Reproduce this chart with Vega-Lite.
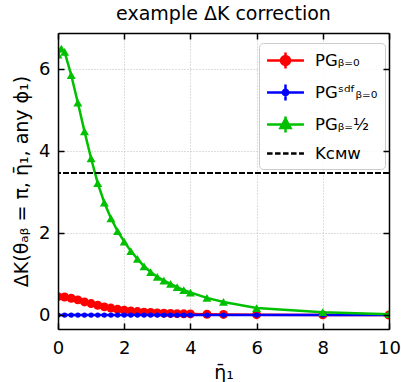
{
  "$schema": "https://vega.github.io/schema/vega-lite/v6.json",
  "width": 331,
  "height": 296,
  "autosize": {"type": "none"},
  "padding": {"left": 58, "top": 33, "right": 12, "bottom": 53},
  "title": {"text": "example ΔK correction", "fontSize": 19, "font": "DejaVu Sans", "fontWeight": "normal", "color": "black", "offset": 8},
  "config": {"font": "DejaVu Sans", "view": {"stroke": null}},
  "data": {"values": [
    {"s": "a", "x": 0, "y": 0.45}, {"s": "a", "x": 0.2, "y": 0.44}, {"s": "a", "x": 0.4, "y": 0.41}, {"s": "a", "x": 0.6, "y": 0.37}, {"s": "a", "x": 0.8, "y": 0.32},
    {"s": "a", "x": 1.0, "y": 0.28}, {"s": "a", "x": 1.2, "y": 0.24}, {"s": "a", "x": 1.4, "y": 0.2}, {"s": "a", "x": 1.6, "y": 0.17}, {"s": "a", "x": 1.8, "y": 0.14},
    {"s": "a", "x": 2.0, "y": 0.12}, {"s": "a", "x": 2.2, "y": 0.1}, {"s": "a", "x": 2.4, "y": 0.085}, {"s": "a", "x": 2.6, "y": 0.072}, {"s": "a", "x": 2.8, "y": 0.062},
    {"s": "a", "x": 3.0, "y": 0.053}, {"s": "a", "x": 3.2, "y": 0.046}, {"s": "a", "x": 3.4, "y": 0.04}, {"s": "a", "x": 3.6, "y": 0.035}, {"s": "a", "x": 3.8, "y": 0.031},
    {"s": "a", "x": 4.0, "y": 0.027}, {"s": "a", "x": 4.5, "y": 0.02}, {"s": "a", "x": 5, "y": 0.015}, {"s": "a", "x": 6, "y": 0.009}, {"s": "a", "x": 8, "y": 0.004}, {"s": "a", "x": 10, "y": 0.002},
    {"s": "b", "x": 0, "y": 0}, {"s": "b", "x": 0.2, "y": 0}, {"s": "b", "x": 0.4, "y": 0}, {"s": "b", "x": 0.6, "y": 0}, {"s": "b", "x": 0.8, "y": 0},
    {"s": "b", "x": 1.0, "y": 0}, {"s": "b", "x": 1.2, "y": 0}, {"s": "b", "x": 1.4, "y": 0}, {"s": "b", "x": 1.6, "y": 0}, {"s": "b", "x": 1.8, "y": 0},
    {"s": "b", "x": 2.0, "y": 0}, {"s": "b", "x": 2.2, "y": 0}, {"s": "b", "x": 2.4, "y": 0}, {"s": "b", "x": 2.6, "y": 0}, {"s": "b", "x": 2.8, "y": 0},
    {"s": "b", "x": 3.0, "y": 0}, {"s": "b", "x": 3.2, "y": 0}, {"s": "b", "x": 3.4, "y": 0}, {"s": "b", "x": 3.6, "y": 0}, {"s": "b", "x": 3.8, "y": 0},
    {"s": "b", "x": 4.0, "y": 0}, {"s": "b", "x": 4.5, "y": 0}, {"s": "b", "x": 5, "y": 0}, {"s": "b", "x": 6, "y": 0}, {"s": "b", "x": 8, "y": 0}, {"s": "b", "x": 10, "y": 0},
    {"s": "c", "x": 0, "y": 6.35}, {"s": "c", "x": 0.1, "y": 6.5}, {"s": "c", "x": 0.2, "y": 6.42}, {"s": "c", "x": 0.4, "y": 5.85}, {"s": "c", "x": 0.6, "y": 5.18}, {"s": "c", "x": 0.8, "y": 4.48},
    {"s": "c", "x": 1.0, "y": 3.82}, {"s": "c", "x": 1.2, "y": 3.22}, {"s": "c", "x": 1.4, "y": 2.74}, {"s": "c", "x": 1.6, "y": 2.36}, {"s": "c", "x": 1.8, "y": 2.05},
    {"s": "c", "x": 2.0, "y": 1.79}, {"s": "c", "x": 2.2, "y": 1.56}, {"s": "c", "x": 2.4, "y": 1.37}, {"s": "c", "x": 2.6, "y": 1.19}, {"s": "c", "x": 2.8, "y": 1.05},
    {"s": "c", "x": 3.0, "y": 0.93}, {"s": "c", "x": 3.2, "y": 0.84}, {"s": "c", "x": 3.4, "y": 0.76}, {"s": "c", "x": 3.6, "y": 0.68}, {"s": "c", "x": 3.8, "y": 0.61},
    {"s": "c", "x": 4.0, "y": 0.55}, {"s": "c", "x": 4.5, "y": 0.42}, {"s": "c", "x": 5, "y": 0.32}, {"s": "c", "x": 6, "y": 0.17}, {"s": "c", "x": 8, "y": 0.07}, {"s": "c", "x": 10, "y": 0.02}
  ]},
  "layer": [
    {
      "transform": [{"filter": "datum.s === 'a'"}],
      "mark": {"type": "line", "strokeWidth": 2.5, "clip": true},
      "encoding": {
        "x": {"field": "x", "type": "quantitative", "scale": {"domain": [0, 10], "nice": false, "zero": false},
              "axis": {"orient": "top", "grid": true, "ticks": false, "labels": false, "domain": false, "title": null, "values": [0, 2, 4, 6, 8, 10], "gridColor": "#bdbdbd", "gridDash": [1, 2], "gridWidth": 1, "zindex": 0}},
        "y": {"field": "y", "type": "quantitative", "scale": {"domain": [-0.34, 6.88], "nice": false, "zero": false},
              "axis": {"orient": "right", "grid": true, "ticks": false, "labels": false, "domain": false, "title": null, "values": [0, 2, 4, 6], "gridColor": "#bdbdbd", "gridDash": [1, 2], "gridWidth": 1, "zindex": 0}},
        "color": {"field": "s", "type": "nominal",
                  "scale": {"domain": ["a", "b", "c", "d"], "range": ["#ff0000", "#0000ff", "#00c000", "#000000"]},
                  "legend": {
                    "orient": "none", "legendX": 201, "legendY": 10, "title": null, "padding": 7, "symbolOffset": 9,
                    "labelOffset": 19, "rowPadding": 5, "symbolSize": 324, "symbolStrokeWidth": 2.5,
                    "labelFont": "DejaVu Sans", "labelFontSize": 16.5, "labelColor": "black",
                    "strokeColor": "#cccccc", "cornerRadius": 4, "fillColor": "rgba(255,255,255,0.85)",
                    "labelExpr": "{'a': 'PGᵦ₌₀', 'b': 'PGˢᵈᶠᵦ₌₀', 'c': 'PGᵦ₌½', 'd': 'Kᴄᴍᴡ'}[datum.value]",
                    "encode": {"symbols": {"update": {
                      "shape": {"signal": "datum.value === 'a' ? 'M-2.05,0H2.05M0,-0.9V0.9M-0.5,0A0.5,0.5 0 1 0 0.5,0A0.5,0.5 0 1 0 -0.5,0Z' : datum.value === 'b' ? 'M-2.05,0H2.05M0,-0.9V0.9M-0.3,0A0.3,0.3 0 1 0 0.3,0A0.3,0.3 0 1 0 -0.3,0Z' : datum.value === 'c' ? 'M-2.05,0H2.05M0,-0.9V0.9M0,-0.62L0.56,0.4L-0.56,0.4Z' : 'M-2.05,0H2.05'"},
                      "strokeDash": {"signal": "datum.value === 'd' ? [5.5, 2.5] : []"},
                      "fill": {"scale": "color", "field": "value"},
                      "stroke": {"scale": "color", "field": "value"},
                      "opacity": {"value": 1}
                    }}}
                  }}
      }
    },
    {
      "transform": [{"filter": "datum.s === 'a'"}],
      "mark": {"type": "point", "shape": "circle", "filled": true, "size": 80, "opacity": 1, "clip": true},
      "encoding": {
        "x": {"field": "x", "type": "quantitative", "scale": {"domain": [0, 10], "nice": false, "zero": false},
              "axis": {"orient": "bottom", "grid": false, "values": [0, 2, 4, 6, 8, 10], "tickSize": -6, "tickWidth": 1.5, "tickColor": "black",
                       "domain": true, "domainColor": "black", "domainWidth": 1.5, "labelFontSize": 18, "labelPadding": 16, "labelColor": "black", "labelFlush": false,
                       "title": "η̄₁", "titleFontSize": 19, "titleFontWeight": "normal", "titleColor": "black", "titlePadding": 6, "zindex": 1}},
        "y": {"field": "y", "type": "quantitative", "scale": {"domain": [-0.34, 6.88], "nice": false, "zero": false},
              "axis": {"orient": "left", "grid": false, "values": [0, 2, 4, 6], "tickSize": -6, "tickWidth": 1.5, "tickColor": "black",
                       "domain": true, "domainColor": "black", "domainWidth": 1.5, "labelFontSize": 18, "labelPadding": 14, "labelColor": "black",
                       "title": "ΔK(θₐᵦ = π, η̄₁, any ϕ₁)", "titleFontSize": 19, "titleFontWeight": "normal", "titleColor": "black", "titlePadding": 7, "zindex": 1}},
        "color": {"field": "s", "type": "nominal"}
      }
    },
    {
      "transform": [{"filter": "datum.s === 'b'"}],
      "mark": {"type": "line", "strokeWidth": 2.5, "clip": true},
      "encoding": {
        "x": {"field": "x", "type": "quantitative", "axis": null},
        "y": {"field": "y", "type": "quantitative", "axis": null},
        "color": {"field": "s", "type": "nominal"}
      }
    },
    {
      "transform": [{"filter": "datum.s === 'b'"}],
      "mark": {"type": "point", "shape": "circle", "filled": true, "size": 28, "opacity": 1, "clip": true},
      "encoding": {
        "x": {"field": "x", "type": "quantitative", "axis": null},
        "y": {"field": "y", "type": "quantitative", "axis": null},
        "color": {"field": "s", "type": "nominal"}
      }
    },
    {
      "transform": [{"filter": "datum.s === 'c'"}],
      "mark": {"type": "line", "strokeWidth": 2.5, "clip": true},
      "encoding": {
        "x": {"field": "x", "type": "quantitative", "axis": null},
        "y": {"field": "y", "type": "quantitative", "axis": null},
        "color": {"field": "s", "type": "nominal"}
      }
    },
    {
      "transform": [{"filter": "datum.s === 'c'"}],
      "mark": {"type": "point", "shape": "triangle-up", "filled": true, "size": 80, "opacity": 1, "clip": true},
      "encoding": {
        "x": {"field": "x", "type": "quantitative",
              "axis": {"orient": "top", "grid": false, "values": [0, 2, 4, 6, 8, 10], "tickSize": -6, "tickWidth": 1.5, "tickColor": "black",
                       "domain": true, "domainColor": "black", "domainWidth": 1.5, "labels": false, "title": null, "zindex": 1}},
        "y": {"field": "y", "type": "quantitative",
              "axis": {"orient": "right", "grid": false, "values": [0, 2, 4, 6], "tickSize": -6, "tickWidth": 1.5, "tickColor": "black",
                       "domain": true, "domainColor": "black", "domainWidth": 1.5, "labels": false, "title": null, "zindex": 1}},
        "color": {"field": "s", "type": "nominal"}
      }
    },
    {
      "mark": {"type": "rule", "strokeDash": [5.5, 2.5], "strokeWidth": 1.8},
      "encoding": {
        "y": {"datum": 3.46, "type": "quantitative", "axis": null},
        "color": {"datum": "d", "type": "nominal"}
      }
    }
  ]
}
